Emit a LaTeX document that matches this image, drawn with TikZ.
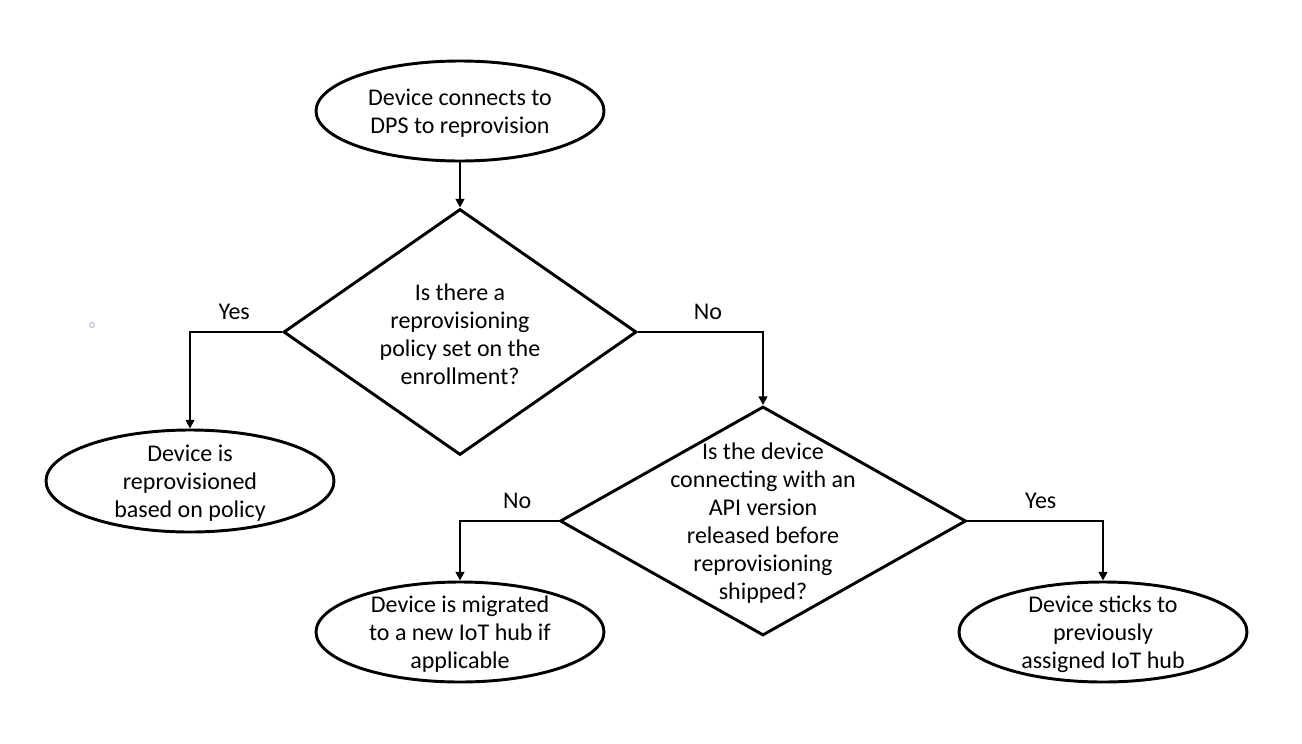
\documentclass[tikz,border=0pt]{standalone}
\usepackage{fontspec}
\setmainfont{Carlito}
\usetikzlibrary{shapes, arrows.meta}

\begin{document}
\begin{tikzpicture}[x=0.75pt, y=-0.75pt,
		every node/.style={font=\fontsize{18}{21}\selectfont, align=center},
		terminal/.style={ellipse, draw, line width=\lw, minimum width=216pt, minimum height=75pt, inner sep=0pt},
		decision/.style={diamond, draw, line width=\lw, inner sep=0pt},
		flow/.style={-{Triangle[length=6.5pt,width=6.5pt]}, line width=\lw},
		answer/.style={above, inner sep=8pt},
	]
		\def\lw{2.2pt}
		\useasboundingbox (0,0) rectangle (1302,743);
		
		% shapes
		\node[terminal] (start) at (460,111) {};
		\node[decision, minimum width=264.75pt, minimum height=184.5pt] (policy) at (460,332) {};
		\node[terminal, minimum height=76.5pt] (policyend) at (190,481) {};
		\node[decision, minimum width=304.5pt, minimum height=171.75pt] (api) at (763,521) {};
		\node[terminal] (migrate) at (460,632) {};
		\node[terminal] (stick) at (1103,632) {};
		
		% texts
		\node (starttext) at ([yshift=-1.5pt]start) {Device connects to\\DPS to reprovision};
		\node (policytext) at ([yshift=-1.5pt]policy) {Is there a\\reprovisioning\\policy set on the\\enrollment?};
		\node (policyendtext) at ([yshift=-1.5pt]policyend) {Device is\\reprovisioned\\based on policy};
		\node (apitext) at ([yshift=-1.5pt]api) {Is the device\\connecting with an\\API version\\released before\\reprovisioning\\shipped?};
		\node (migratetext) at ([yshift=-1.5pt]migrate) {Device is migrated\\to a new IoT hub if\\applicable};
		\node (sticktext) at ([yshift=-1.5pt]stick) {Device sticks to\\previously\\assigned IoT hub};
		
		% connectors
		\draw[flow] (start) -- (policy);
		\draw[flow] (policy.west) -| node[answer, pos=0.26]{Yes} (policyend.north);
		\draw[flow] (policy.east) -| node[answer, pos=0.28]{No} (api.north);
		\draw[flow] (api.west) -| node[answer, pos=0.21]{No} (migrate.north);
		\draw[flow] (api.east) -| node[answer, pos=0.27]{Yes} (stick.north);
		
		\draw[blue!30!gray!50, line width=0.6pt] (92,325) circle (2.5);
\end{tikzpicture}
\end{document}
